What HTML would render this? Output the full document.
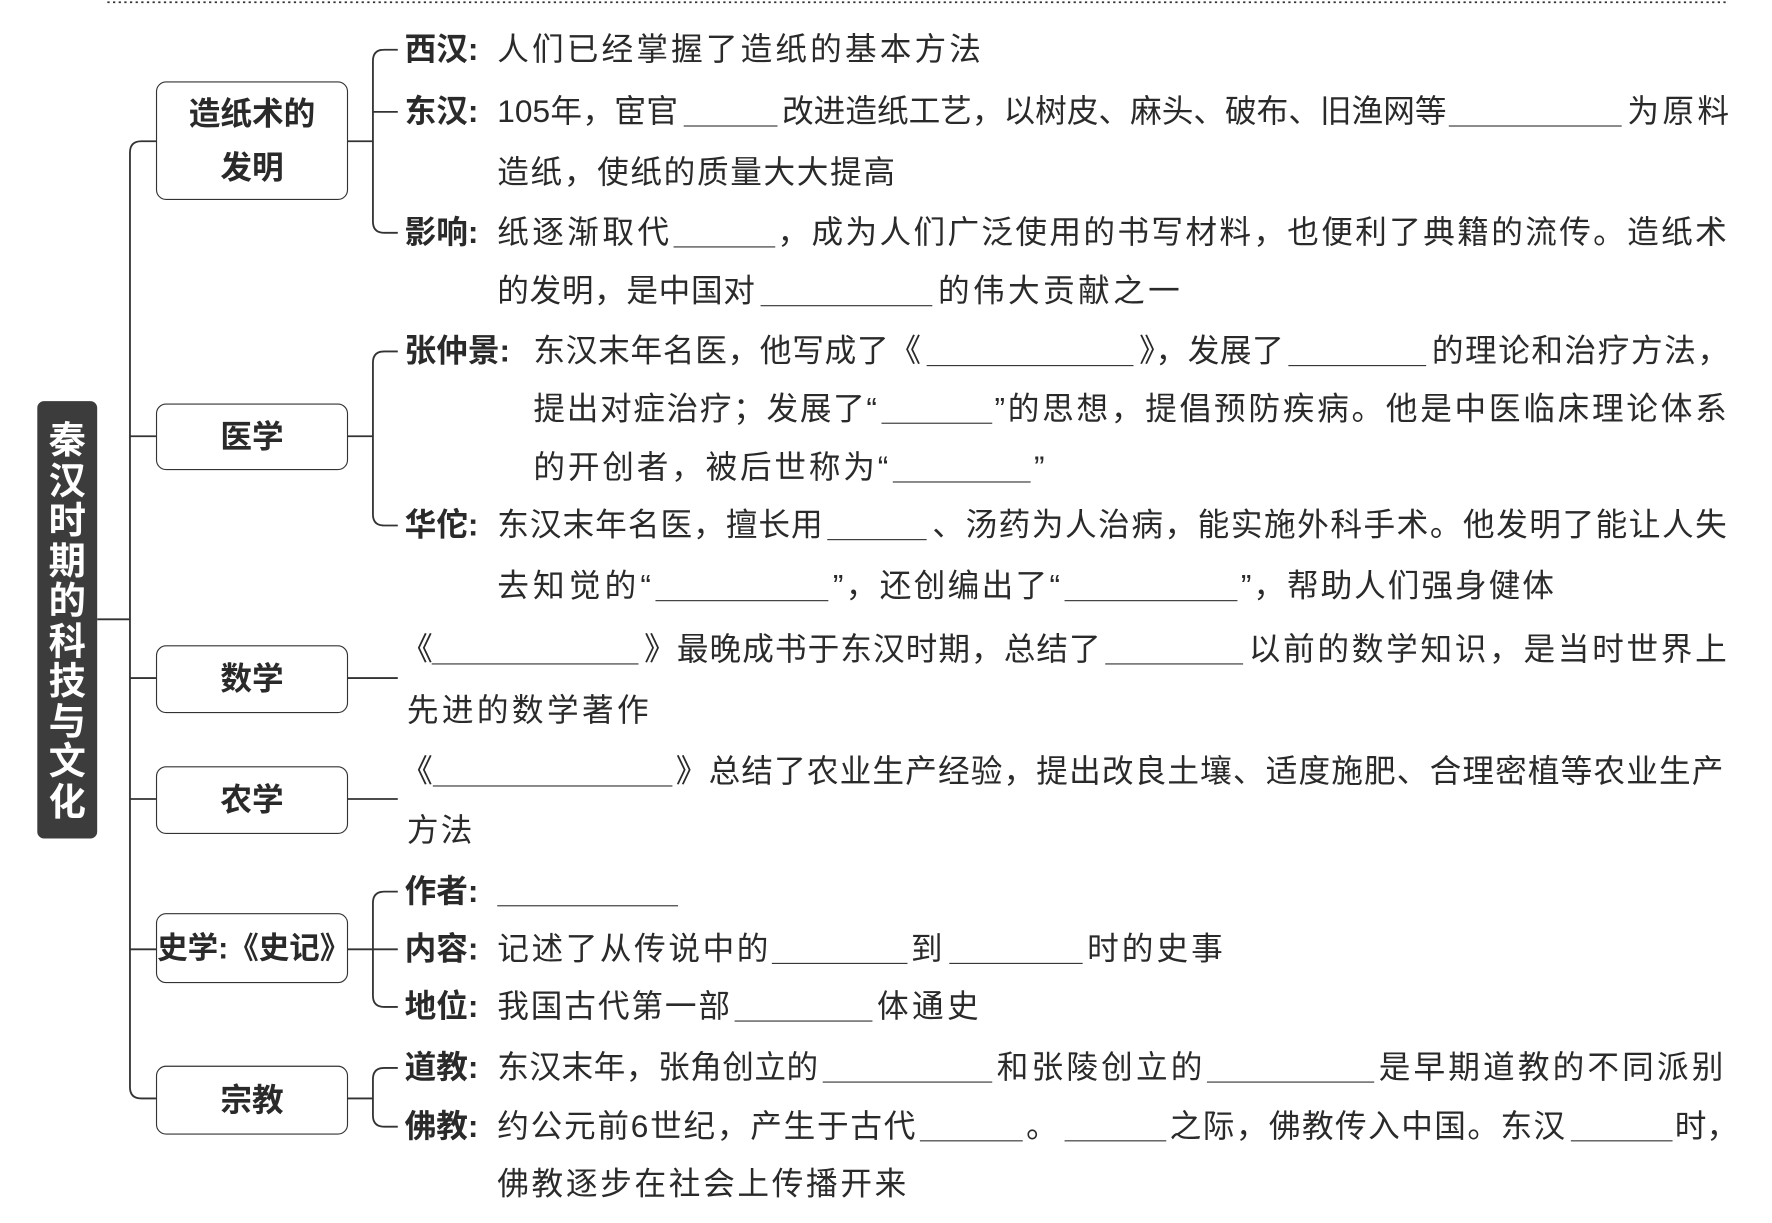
<!DOCTYPE html>
<html><head><meta charset="utf-8"><style>
html,body{margin:0;padding:0;background:#fff;}
#w{position:absolute;left:0;top:0;width:1568px;height:1082px;transform:scale(1.1301);transform-origin:0 0;font-family:"Liberation Sans","Noto Sans CJK SC",sans-serif;color:#2a2a2a;}
.t{position:absolute;font-size:28px;line-height:36px;white-space:nowrap;letter-spacing:2px;}
.j{text-align:justify;text-align-last:justify;letter-spacing:0;}
.l{position:absolute;font-size:28px;line-height:36px;font-weight:bold;white-space:nowrap;}
.b{position:absolute;height:0;border-top:1.6px solid #333;}
.box{position:absolute;border:1.6px solid #333;border-radius:9px;box-sizing:border-box;display:flex;align-items:center;justify-content:center;text-align:center;font-size:28px;font-weight:bold;line-height:46px;background:#fff;}
#title{position:absolute;left:33px;top:355px;width:53px;height:387px;background:#3c3c3c;border-radius:6px;color:#fff;font-weight:bold;font-size:33px;line-height:35.5px;text-align:center;padding-top:17px;box-sizing:border-box;}
</style></head><body><div id="w">
<svg width="1568" height="1082" style="position:absolute;left:0;top:0" fill="none" stroke="#333" stroke-width="1.6">
<line x1="95" y1="2" x2="1530" y2="2" stroke-dasharray="2,3"/>
<path d="M138,125 H125 Q115,125 115,135 V962 Q115,972 125,972 H138"/>
<path d="M115,386 H138 M115,600 H138 M115,707 H138 M115,840 H138 M86,548 H115"/>
<path d="M307,125 H330 M352,44 H340 Q330,44 330,54 V196 Q330,206 340,206 H352 M330,99 H352"/>
<path d="M307,386 H330 M352,311 H340 Q330,311 330,321 V455 Q330,465 340,465 H352"/>
<path d="M307,600 H352 M307,707 H352"/>
<path d="M307,840 H352 M352,789 H340 Q330,789 330,799 V881 Q330,891 340,891 H352"/>
<path d="M307,972 H330 M352,945 H340 Q330,945 330,955 V987 Q330,997 340,997 H352"/>
</svg>
<div id="title">秦<br>汉<br>时<br>期<br>的<br>科<br>技<br>与<br>文<br>化</div>
<div class="box" style="left:138px;top:72px;width:170px;height:105px;line-height:48px">造纸术的<br>发明</div>
<div class="box" style="left:138px;top:357px;width:170px;height:59px">医学</div>
<div class="box" style="left:138px;top:571px;width:170px;height:60px">数学</div>
<div class="box" style="left:138px;top:678px;width:170px;height:60px">农学</div>
<div class="box" style="left:138px;top:808px;width:170px;height:62px;font-size:27px">史学:《史记》</div>
<div class="box" style="left:138px;top:943px;width:170px;height:61px">宗教</div>

<!-- row 44 -->
<div class="l" style="left:358px;top:26px">西汉:</div>
<div class="t j" style="left:440px;top:26px;width:428px">人们已经掌握了造纸的基本方法</div>
<!-- row 99 -->
<div class="l" style="left:358px;top:81px">东汉:</div>
<div class="t j" style="left:440px;top:81px;width:160px">105年，宦官</div>
<div class="b" style="left:605px;top:111px;width:83px"></div>
<div class="t j" style="left:692px;top:81px;width:586px">改进造纸工艺，以树皮、麻头、破布、旧渔网等</div>
<div class="b" style="left:1282px;top:111px;width:153px"></div>
<div class="t j" style="left:1440px;top:81px;width:90px">为原料</div>
<!-- 153 -->
<div class="t j" style="left:440px;top:135px;width:352px">造纸，使纸的质量大大提高</div>
<!-- 206 -->
<div class="l" style="left:358px;top:188px">影响:</div>
<div class="t j" style="left:440px;top:188px;width:152px">纸逐渐取代</div>
<div class="b" style="left:596px;top:218px;width:90px"></div>
<div class="t j" style="left:688px;top:188px;width:840px">，成为人们广泛使用的书写材料，也便利了典籍的流传。造纸术</div>
<!-- 258 -->
<div class="t j" style="left:440px;top:240px;width:228px">的发明，是中国对</div>
<div class="b" style="left:673px;top:270px;width:152px"></div>
<div class="t j" style="left:830px;top:240px;width:214px">的伟大贡献之一</div>
<!-- 311 -->
<div class="l" style="left:358px;top:293px">张仲景:</div>
<div class="t j" style="left:472px;top:293px;width:343px">东汉末年名医，他写成了《</div>
<div class="b" style="left:820px;top:323px;width:183px"></div>
<div class="t j" style="left:1008px;top:293px;width:128px">》，发展了</div>
<div class="b" style="left:1140px;top:323px;width:122px"></div>
<div class="t j" style="left:1267px;top:293px;width:263px">的理论和治疗方法，</div>
<!-- 362 -->
<div class="t j" style="left:472px;top:344px;width:304px">提出对症治疗；发展了“</div>
<div class="b" style="left:780px;top:374px;width:98px"></div>
<div class="t j" style="left:880px;top:344px;width:648px">”的思想，提倡预防疾病。他是中医临床理论体系</div>
<!-- 414 -->
<div class="t j" style="left:472px;top:396px;width:314px">的开创者，被后世称为“</div>
<div class="b" style="left:790px;top:426px;width:122px"></div>
<div class="t" style="left:915px;top:396px">”</div>
<!-- 465 -->
<div class="l" style="left:358px;top:447px">华佗:</div>
<div class="t j" style="left:440px;top:447px;width:288px">东汉末年名医，擅长用</div>
<div class="b" style="left:732px;top:477px;width:88px"></div>
<div class="t j" style="left:825px;top:447px;width:703px">、汤药为人治病，能实施外科手术。他发明了能让人失</div>
<!-- 519 -->
<div class="t j" style="left:440px;top:501px;width:136px">去知觉的“</div>
<div class="b" style="left:580px;top:531px;width:153px"></div>
<div class="t j" style="left:737px;top:501px;width:201px">”，还创编出了“</div>
<div class="b" style="left:942px;top:531px;width:153px"></div>
<div class="t j" style="left:1098px;top:501px;width:277px">”，帮助人们强身健体</div>
<!-- 575 -->
<div class="t" style="left:355px;top:557px">《</div>
<div class="b" style="left:382px;top:587px;width:183px"></div>
<div class="t j" style="left:570px;top:557px;width:404px">》最晚成书于东汉时期，总结了</div>
<div class="b" style="left:978px;top:587px;width:122px"></div>
<div class="t j" style="left:1105px;top:557px;width:423px">以前的数学知识，是当时世界上</div>
<!-- 629 -->
<div class="t j" style="left:360px;top:611px;width:214px">先进的数学著作</div>
<!-- 683 -->
<div class="t" style="left:355px;top:665px">《</div>
<div class="b" style="left:383px;top:695px;width:212px"></div>
<div class="t j" style="left:598px;top:665px;width:927px">》总结了农业生产经验，提出改良土壤、适度施肥、合理密植等农业生产</div>
<!-- 735 -->
<div class="t j" style="left:360px;top:717px;width:58px">方法</div>
<!-- 789 -->
<div class="l" style="left:358px;top:771px">作者:</div>
<div class="b" style="left:440px;top:801px;width:160px"></div>
<!-- 840 -->
<div class="l" style="left:358px;top:822px">内容:</div>
<div class="t j" style="left:440px;top:822px;width:240px">记述了从传说中的</div>
<div class="b" style="left:683px;top:852px;width:120px"></div>
<div class="t" style="left:806px;top:822px">到</div>
<div class="b" style="left:840px;top:852px;width:118px"></div>
<div class="t j" style="left:962px;top:822px;width:120px">时的史事</div>
<!-- 891 -->
<div class="l" style="left:358px;top:873px">地位:</div>
<div class="t j" style="left:440px;top:873px;width:206px">我国古代第一部</div>
<div class="b" style="left:650px;top:903px;width:122px"></div>
<div class="t j" style="left:776px;top:873px;width:90px">体通史</div>
<!-- 945 -->
<div class="l" style="left:358px;top:927px">道教:</div>
<div class="t j" style="left:440px;top:927px;width:284px">东汉末年，张角创立的</div>
<div class="b" style="left:728px;top:957px;width:150px"></div>
<div class="t j" style="left:882px;top:927px;width:182px">和张陵创立的</div>
<div class="b" style="left:1068px;top:957px;width:148px"></div>
<div class="t j" style="left:1220px;top:927px;width:305px">是早期道教的不同派别</div>
<!-- 997 -->
<div class="l" style="left:358px;top:979px">佛教:</div>
<div class="t j" style="left:440px;top:979px;width:370px">约公元前6世纪，产生于古代</div>
<div class="b" style="left:814px;top:1009px;width:91px"></div>
<div class="t" style="left:908px;top:979px">。</div>
<div class="b" style="left:942px;top:1009px;width:90px"></div>
<div class="t j" style="left:1035px;top:979px;width:350px">之际，佛教传入中国。东汉</div>
<div class="b" style="left:1390px;top:1009px;width:90px"></div>
<div class="t j" style="left:1482px;top:979px;width:46px">时，</div>
<!-- 1048 -->
<div class="t j" style="left:440px;top:1030px;width:362px">佛教逐步在社会上传播开来</div>
</div></body></html>
